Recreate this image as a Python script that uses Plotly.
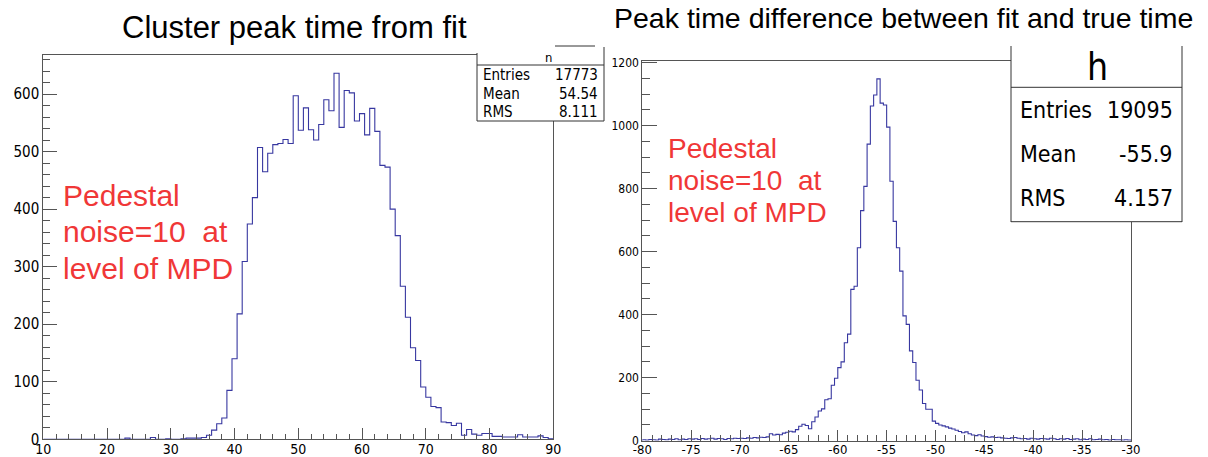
import numpy as np
import plotly.graph_objects as go

W, H = 1208, 457

# ---------------- data ----------------
left_title = "Cluster peak time from fit"
right_title = "Peak time difference between fit and true time"

left_lo, left_hi, left_nbins = 10.0, 90.0, 100
left_counts = [
    0, 0, 0, 0, 0, 0, 0, 0, 0, 0,
    0, 0, 0, 0, 0, 0, 2, 0, 0, 0,
    0, 3, 0, 0, 1, 0, 0, 1, 2, 2,
    2, 3, 7, 16, 27, 37, 85, 140, 218, 309,
    374, 420, 507, 465, 497, 512, 514, 521, 514, 597,
    537, 576, 538, 520, 547, 590, 571, 636, 542, 606,
    602, 553, 566, 529, 575, 535, 476, 473, 400, 354,
    266, 212, 159, 137, 91, 73, 57, 55, 30, 29,
    24, 28, 7, 17, 9, 7, 10, 10, 5, 5,
    4, 4, 4, 8, 4, 4, 4, 6, 3, 1,
]

right_lo, right_hi, right_nbins = -80.0, -30.0, 150
right_counts = [
    3, 2, 4, 3, 2, 5, 4, 3, 5, 4,
    6, 3, 5, 4, 6, 5, 6, 4, 7, 5,
    6, 8, 5, 7, 6, 4, 7, 6, 8, 7,
    8, 7, 9, 8, 10, 9, 11, 10, 12, 22,
    18, 20, 19, 24, 27, 30, 28, 35, 46, 52,
    48, 38, 60, 75, 94, 101, 130, 133, 176, 198,
    232, 250, 311, 338, 480, 490, 612, 730, 807, 941,
    1062, 1097, 1148, 1071, 1065, 995, 823, 696, 612, 538,
    396, 369, 285, 248, 192, 161, 118, 100, 100, 62,
    55, 50, 47, 44, 40, 37, 33, 29, 25, 28,
    22, 18, 16, 19, 15, 13, 11, 12, 10, 11,
    9, 8, 7, 9, 10, 8, 6, 7, 5, 8,
    6, 5, 7, 6, 5, 8, 6, 4, 6, 5,
    7, 4, 5, 6, 3, 5, 4, 6, 3, 4,
    5, 3, 4, 2, 4, 3, 3, 2, 3, 2,
]
assert len(left_counts) == left_nbins and len(right_counts) == right_nbins

left_xticks = [10, 20, 30, 40, 50, 60, 70, 80, 90]
left_xticklabels = ["10", "20", "30", "40", "50", "60", "70", "80", "90"]
left_yticks = [0, 100, 200, 300, 400, 500, 600]
left_yticklabels = ["0", "100", "200", "300", "400", "500", "600"]
right_xticks = [-80, -75, -70, -65, -60, -55, -50, -45, -40, -35, -30]
right_xticklabels = ["-80", "-75", "-70", "-65", "-60", "-55", "-50", "-45", "-40", "-35", "-30"]
right_yticks = [0, 200, 400, 600, 800, 1000, 1200]
right_yticklabels = ["0", "200", "400", "600", "800", "1000", "1200"]

left_stats_name = "n"
left_stats_labels = ["Entries", "Mean", "RMS"]
left_stats_values = ["17773", "54.54", "8.111"]
right_stats_name = "h"
right_stats_labels = ["Entries", "Mean", "RMS"]
right_stats_values = ["19095", "-55.9", "4.157"]

note_lines = ["Pedestal", "noise=10  at", "level of MPD"]

# ---------------- helpers ----------------
def fx(x):
    return x / W

def fy(y):
    return 1 - y / H

FONT = "Liberation Sans Narrow, DejaVu Sans Condensed, Liberation Sans, Arial, sans-serif"
FONT_N = "Liberation Sans, Arial, sans-serif"
HIST_COLOR = "rgb(55,55,160)"
AX_COLOR = "#555555"
RED = "rgb(240,55,55)"


def step_xy(lo, hi, n, counts):
    edges = np.linspace(lo, hi, n + 1)
    xs = np.concatenate([[edges[0]], edges, [edges[-1]]])
    ys = np.concatenate([[0], counts, [counts[-1]], [0]])
    return xs, ys


fig = go.Figure()

lx, ly = step_xy(left_lo, left_hi, left_nbins, left_counts)
fig.add_trace(go.Scatter(x=lx, y=ly, mode="lines", line=dict(color=HIST_COLOR, width=1.1, shape="hv"),
                         xaxis="x", yaxis="y", showlegend=False, hoverinfo="skip"))
rx, ry = step_xy(right_lo, right_hi, right_nbins, right_counts)
fig.add_trace(go.Scatter(x=rx, y=ry, mode="lines", line=dict(color=HIST_COLOR, width=1.1, shape="hv"),
                         xaxis="x2", yaxis="y2", showlegend=False, hoverinfo="skip"))

left_ymax = max(left_counts) * 1.05
right_ymax = max(right_counts) * 1.05


def axis(domain, rng, tickvals, ticktext, ticklen, minor_dtick, minor_tick0, minor_len, fsize, anchor,
         standoff=0):
    return dict(
        domain=domain, range=rng, anchor=anchor, automargin=False,
        showline=True, linecolor=AX_COLOR, linewidth=1, mirror=True,
        ticks="inside", ticklen=ticklen, tickcolor=AX_COLOR, tickwidth=1,
        tickmode="array", tickvals=tickvals, ticktext=ticktext,
        ticklabelstandoff=standoff,
        minor=dict(ticks="inside", ticklen=minor_len, tickcolor=AX_COLOR, tickwidth=1,
                   tickmode="linear", tick0=minor_tick0, dtick=minor_dtick, showgrid=False),
        showgrid=False, zeroline=False,
        tickfont=dict(family=FONT, size=fsize, color="black"),
    )


fig.update_layout(
    width=W, height=H, autosize=False,
    margin=dict(l=0, r=0, t=0, b=0),
    paper_bgcolor="white", plot_bgcolor="white",
    xaxis=axis([fx(43.3), fx(553.3)], [left_lo, left_hi], left_xticks, left_xticklabels, 11, 2, 10, 5.5, 14, "y",
               standoff=-3),
    yaxis=axis([fy(439.3), fy(55)], [0, left_ymax], left_yticks, left_yticklabels, 14, 20, 0, 7, 15, "x"),
    xaxis2=axis([fx(642.3), fx(1131)], [right_lo, right_hi], right_xticks, right_xticklabels, 11, 1, -80, 5.5, 13,
                "y2", standoff=-3),
    yaxis2=axis([fy(440.7), fy(60.8)], [0, right_ymax], right_yticks, right_yticklabels, 15, 50, 0, 7.5, 12, "x2"),
)

shapes = []
line_k = dict(color="#333333", width=1)
# left stats box
shapes.append(dict(type="rect", xref="paper", yref="paper", x0=fx(477), x1=fx(604), y0=fy(121), y1=fy(48),
                   fillcolor="white", line=dict(width=0), layer="above"))
for (x0, y0, x1, y1) in [(477, 53, 477, 121), (604, 47, 604, 121), (477, 65, 604, 65), (477, 121, 604, 121),
                         (555, 46, 595, 46)]:
    shapes.append(dict(type="line", xref="paper", yref="paper", x0=fx(x0), y0=fy(y0), x1=fx(x1), y1=fy(y1),
                       line=line_k, layer="above"))
# right stats box
shapes.append(dict(type="rect", xref="paper", yref="paper", x0=fx(1011), x1=fx(1182), y0=fy(222), y1=fy(46),
                   fillcolor="white", line=dict(width=0), layer="above"))
for (x0, y0, x1, y1) in [(1011, 46, 1011, 222), (1182, 46, 1182, 222), (1011, 87.3, 1182, 87.3),
                         (1011, 221.7, 1182, 221.7)]:
    shapes.append(dict(type="line", xref="paper", yref="paper", x0=fx(x0), y0=fy(y0), x1=fx(x1), y1=fy(y1),
                       line=line_k, layer="above"))
fig.update_layout(shapes=shapes)

ann = []


def text(x, y, s, size, color="black", xanchor="center", family=FONT_N):
    ann.append(dict(x=fx(x), y=fy(y), xref="paper", yref="paper", text=s, showarrow=False,
                    xanchor=xanchor, yanchor="middle", borderpad=0,
                    font=dict(family=family, size=size, color=color)))


# titles
text(294, 27, left_title, 31)
text(903.5, 18, right_title, 28.5)

# red notes
for i, s in enumerate(note_lines):
    text(62, 195 + 36.5 * i, s, 30, RED, "left")
for i, s in enumerate(note_lines):
    text(667, 148.6 + 32 * i, s, 28, RED, "left")

# left stats
text(548, 57, left_stats_name, 13, family=FONT)
for i, (lab, val) in enumerate(zip(left_stats_labels, left_stats_values)):
    y = 75 + 18.5 * i
    text(482, y, lab, 15, xanchor="left", family=FONT)
    text(599, y, val, 15, xanchor="right", family=FONT)

# right stats
text(1097, 68, right_stats_name, 37, family=FONT)
for i, (lab, val) in enumerate(zip(right_stats_labels, right_stats_values)):
    y = 110 + 44.2 * i
    text(1019, y, lab, 23, xanchor="left", family=FONT)
    text(1174, y, val, 23, xanchor="right", family=FONT)

fig.update_layout(annotations=ann)

fig.write_html("out.html")
